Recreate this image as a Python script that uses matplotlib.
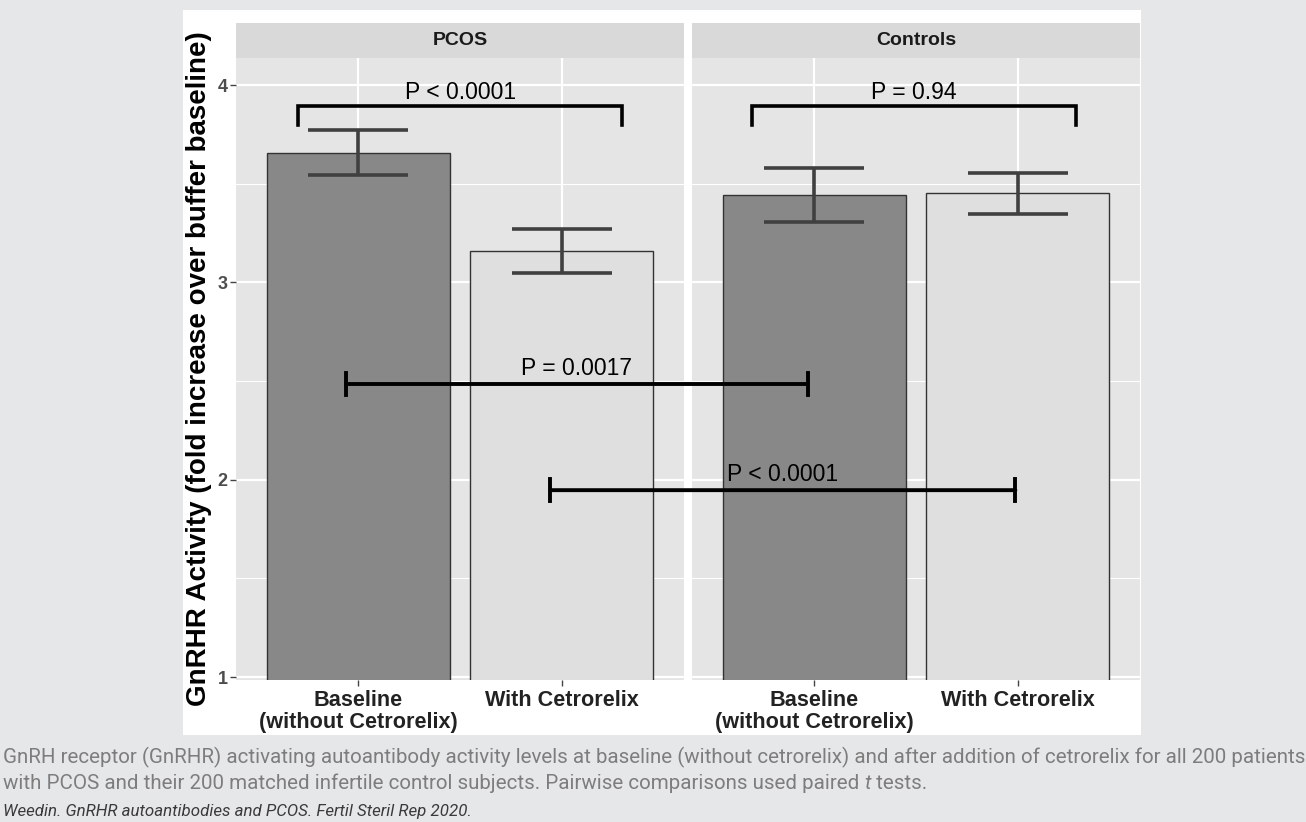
import matplotlib.pyplot as plt
from matplotlib.patches import Rectangle, ConnectionPatch
import numpy as np

groups = ["PCOS", "Controls"]
conditions = ["Baseline\n(without Cetrorelix)", "With Cetrorelix"]
means = {"PCOS": [3.657, 3.159], "Controls": [3.442, 3.451]}
errors = {"PCOS": [0.114, 0.109], "Controls": [0.137, 0.105]}
within_p = {"PCOS": "P < 0.0001", "Controls": "P = 0.94"}
# between-group comparisons: label, x in PCOS panel, x in Controls panel, y
between_p = ["P = 0.0017", "P < 0.0001"]
between_x0 = [0.94, 1.944]
between_x1 = [0.969, 1.988]
between_y = [2.485, 1.947]

caption1 = ("GnRH receptor (GnRHR) activating autoantibody activity levels at baseline "
            "(without cetrorelix) and after addition of cetrorelix for all 200 patients")
caption2a = "with PCOS and their 200 matched infertile control subjects. Pairwise comparisons used paired "
caption2b = "t"
caption2c = " tests."
citation = "Weedin. GnRHR autoantibodies and PCOS. Fertil Steril Rep 2020."

plt.rcParams["font.family"] = ["Liberation Sans", "DejaVu Sans"]

W, H = 1306, 822
fig = plt.figure(figsize=(W / 100, H / 100), dpi=100, facecolor="#e6e7e9")
fig.patches.append(Rectangle((183 / W, 1 - 735 / H), (1141 - 183) / W, (735 - 10) / H,
                             transform=fig.transFigure, facecolor="white",
                             edgecolor="none", zorder=-10))

bottom = 1 - 680 / H
height = (680 - 58) / H
lefts = [236 / W, 692 / W]
width = (684 - 236) / W
bar_colors = ["#888888", "#dfdfdf"]
axes = []

for k, g in enumerate(groups):
    ax = fig.add_axes([lefts[k], bottom, width, height], zorder=1)
    axes.append(ax)
    ax.set_facecolor("#e5e5e5")
    x = np.arange(1, 3)
    ax.bar(x, means[g], width=0.9, bottom=0, color=bar_colors,
           edgecolor="#333333", linewidth=1.0, zorder=2)
    ax.errorbar(x, means[g], yerr=errors[g], fmt="none", ecolor="#404040",
                elinewidth=2.6, capsize=36, capthick=2.6, zorder=3)
    ax.set_xlim(0.4, 2.6)
    ax.set_ylim(0.985, 4.137)
    ax.set_yticks([1, 2, 3, 4])
    ax.set_yticks([1.5, 2.5, 3.5], minor=True)
    ax.set_xticks(x)
    ax.set_xticklabels(conditions, fontweight="bold", fontsize=15.6,
                       color="#222222", linespacing=1.05, multialignment="center")
    ax.grid(which="major", color="white", linewidth=1.6, zorder=0)
    ax.grid(which="minor", axis="y", color="white", linewidth=0.8, zorder=0)
    ax.set_axisbelow(True)
    for s in ax.spines.values():
        s.set_visible(False)
    ax.tick_params(axis="x", length=4, color="#444444", width=1, pad=3)
    ax.tick_params(axis="y", which="major", length=4, color="#444444", width=1,
                   labelsize=13, labelcolor="#4d4d4d", pad=2)
    ax.tick_params(axis="y", which="minor", length=0)
    for lab in ax.get_yticklabels():
        lab.set_fontweight("bold")
    if k == 1:
        ax.tick_params(axis="y", which="major", labelleft=False, length=0)

    # facet strip
    ax.add_patch(Rectangle((0, 1), 1, 35 / 622, transform=ax.transAxes,
                           facecolor="#d9d9d9", edgecolor="none", clip_on=False))
    ax.text(0.5, 1 + 17.5 / 622, g, transform=ax.transAxes, ha="center",
            va="center", fontsize=14, fontweight="bold", color="#1a1a1a")

    # within-group bracket
    bx0, bx1 = (0.704, 2.297) if k == 0 else (0.694, 2.287)
    ax.plot([bx0, bx0, bx1, bx1], [3.797, 3.894, 3.894, 3.797], color="black",
            linewidth=2.6, solid_joinstyle="miter", zorder=4)
    ax.text((bx0 + bx1) / 2, 3.902, within_p[g], ha="center", va="bottom",
            fontsize=16.5, color="black", zorder=4)

axes[0].set_ylabel("GnRHR Activity (fold increase over buffer baseline)",
                   fontdict={"fontsize": 20, "fontweight": "bold"},
                   labelpad=4, color="black")

# between-group comparisons spanning both panels
for lab, x0, x1, y in zip(between_p, between_x0, between_x1, between_y):
    con = ConnectionPatch(xyA=(x0, y), coordsA=axes[0].transData,
                          xyB=(x1, y), coordsB=axes[1].transData,
                          color="black", linewidth=2.8, zorder=5)
    fig.add_artist(con)
    for a, xx in ((axes[0], x0), (axes[1], x1)):
        a.plot([xx, xx], [y - 0.055, y + 0.055], color="black", linewidth=2.8,
               clip_on=False, zorder=5)
    p0 = axes[0].transData.transform((x0, y))
    p1 = axes[1].transData.transform((x1, y))
    xm = (p0[0] + p1[0]) / 2
    fig.text(xm / W, (p0[1] + 4) / H, lab, ha="center", va="bottom",
             fontsize=16.5, color="black", zorder=6)

# caption
cap_color = "#7d7d7d"
cap_font = ["Roboto", "DejaVu Sans"]
cap_size = 15
c1 = fig.text(3 / W, 1 - 757 / H, caption1, ha="left", va="center", fontsize=cap_size,
              color=cap_color, fontfamily=cap_font)
fig.canvas.draw()
r = fig.canvas.get_renderer()
# fit the first caption line to the page width
cap_size = cap_size * 1302 / c1.get_window_extent(r).width
c1.set_fontsize(cap_size)
t1 = fig.text(3 / W, 1 - 783 / H, caption2a, ha="left", va="center", fontsize=cap_size,
              color=cap_color, fontfamily=cap_font)
bb = t1.get_window_extent(r)
t2 = fig.text(bb.x1 / W, 1 - 783 / H, caption2b, ha="left", va="center", fontsize=cap_size,
              color=cap_color, fontfamily=cap_font, fontstyle="italic")
bb2 = t2.get_window_extent(r)
fig.text(bb2.x1 / W, 1 - 783 / H, caption2c, ha="left", va="center", fontsize=cap_size,
         color=cap_color, fontfamily=cap_font)
c3 = fig.text(3 / W, 1 - 811 / H, citation, ha="left", va="center", fontsize=11,
              color="#3a3a3a", fontfamily=cap_font, fontstyle="italic")
c3.set_fontsize(11 * 468 / c3.get_window_extent(r).width)

fig.savefig("out.png", dpi=100, facecolor=fig.get_facecolor())
